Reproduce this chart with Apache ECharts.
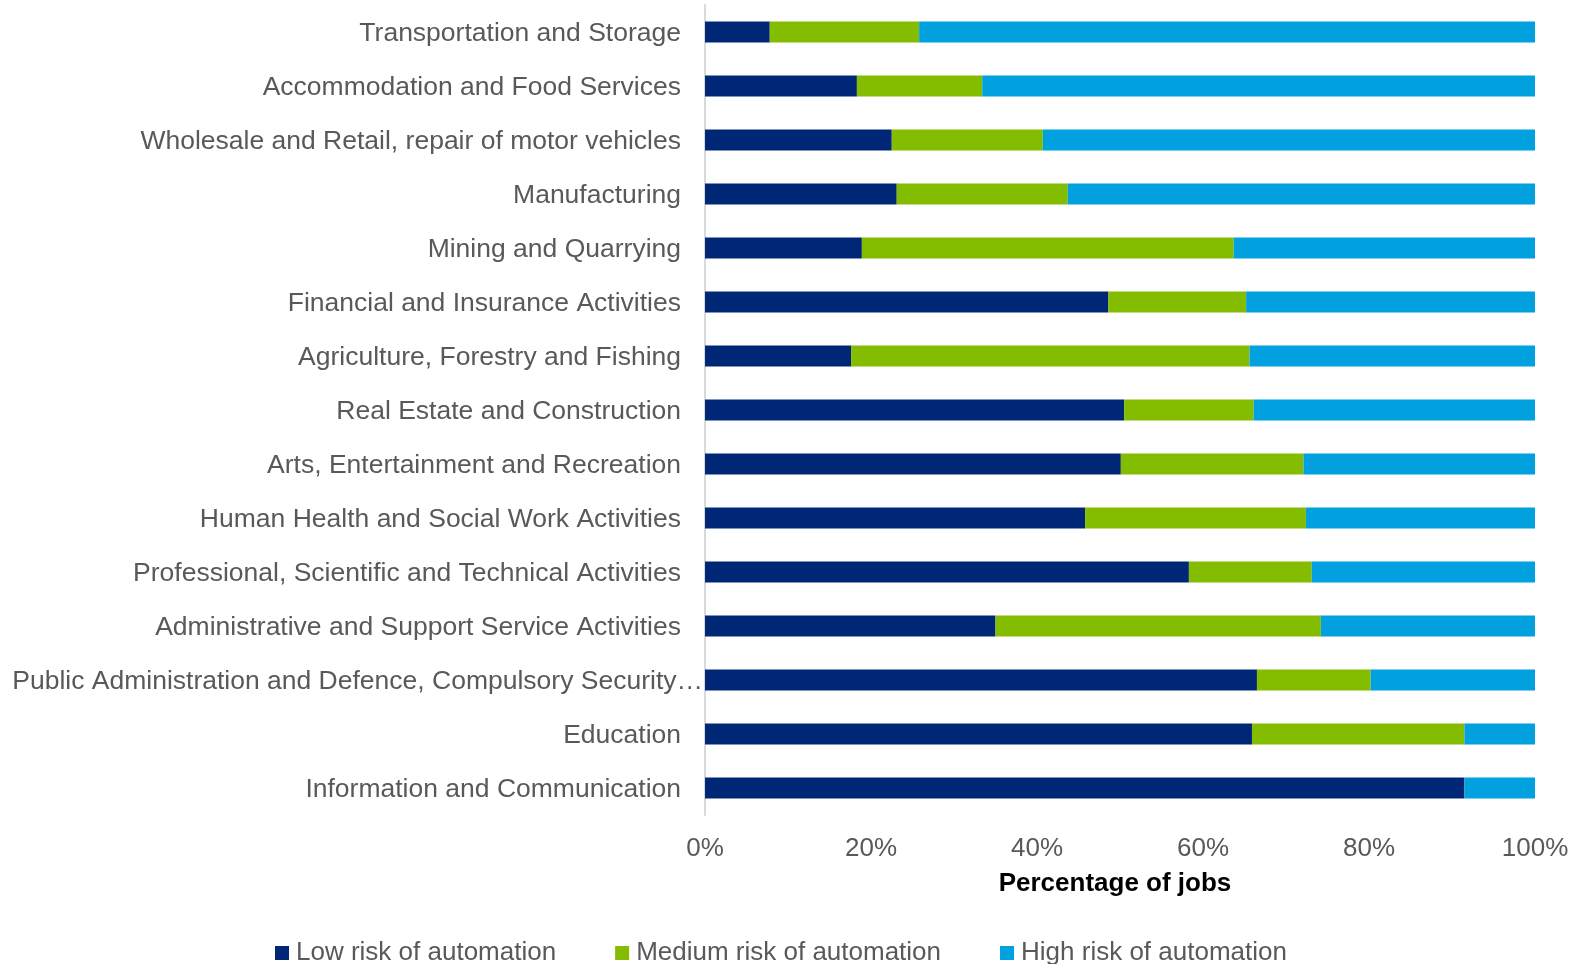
<!DOCTYPE html>
<html>
<head>
<meta charset="utf-8">
<script src="https://cdn.jsdelivr.net/npm/echarts@6/dist/echarts.min.js"></script>
<style>
  html, body { margin: 0; padding: 0; background: #ffffff; }
  #chart { width: 1579px; height: 964px; }
</style>
</head>
<body>
<div id="chart"></div>
<script>
// Categories, top to bottom
const categories = [
  "Transportation and Storage",
  "Accommodation and Food Services",
  "Wholesale and Retail, repair of motor vehicles",
  "Manufacturing",
  "Mining and Quarrying",
  "Financial and Insurance Activities",
  "Agriculture, Forestry and Fishing",
  "Real Estate and Construction",
  "Arts, Entertainment and Recreation",
  "Human Health and Social Work Activities",
  "Professional, Scientific and Technical Activities",
  "Administrative and Support Service Activities",
  "Public Administration and Defence, Compulsory Security…",
  "Education",
  "Information and Communication"
];
const seriesNames = ["Low risk of automation", "Medium risk of automation", "High risk of automation"];
const lowRisk    = [7.8, 18.3, 22.5, 23.1, 18.9, 48.6, 17.6, 50.5, 50.1, 45.8, 58.3, 35.0, 66.5, 65.9, 91.5];
const mediumRisk = [18.0, 15.1, 18.2, 20.6, 44.8, 16.6, 48.0, 15.6, 22.0, 26.6, 14.8, 39.2, 13.7, 25.6, 0];
const highRisk   = [74.2, 66.6, 59.3, 56.3, 36.3, 34.8, 34.4, 33.9, 27.9, 27.6, 26.9, 25.8, 19.8, 8.5, 8.5];
const xTicks = [0, 20, 40, 60, 80, 100];
const xAxisTitle = "Percentage of jobs";

const colors = ["#002776", "#84BC00", "#00A1DE"];
const FONT = "'Liberation Sans', Arial, sans-serif";

const chart = echarts.init(document.getElementById('chart'));
const longLabel = categories[12];

function mkSeries(name, data, color) {
  return {
    name: name,
    type: 'bar',
    stack: 'total',
    data: data,
    barWidth: 21,
    itemStyle: { color: color },
    emphasis: { disabled: true }
  };
}

chart.setOption({
  animation: false,
  backgroundColor: '#ffffff',
  textStyle: { fontFamily: FONT },
  grid: { left: 705, right: 44, top: 5, bottom: 149 },
  legend: {
    left: 270,
    top: 935,
    itemWidth: 14,
    itemHeight: 14,
    itemGap: 59,
    icon: 'rect',
    textStyle: { fontFamily: FONT, fontSize: 26, color: '#595959', padding: [0, 0, 0, 2] },
    data: seriesNames
  },
  xAxis: {
    type: 'value',
    min: xTicks[0],
    max: xTicks[xTicks.length - 1],
    interval: xTicks[1] - xTicks[0],
    axisLine: { show: false },
    axisTick: { show: false },
    splitLine: { show: false },
    axisLabel: {
      formatter: '{value}%',
      fontFamily: FONT,
      fontSize: 26,
      color: '#595959',
      margin: 21
    },
    name: xAxisTitle,
    nameLocation: 'middle',
    nameGap: 56,
    nameTextStyle: { fontFamily: FONT, fontSize: 26, fontWeight: 'bold', color: '#000000', padding: [0, 10, 0, 0] }
  },
  yAxis: {
    type: 'category',
    data: categories,
    inverse: true,
    axisLine: { show: true, lineStyle: { color: '#D9D9D9', width: 2 } },
    axisTick: { show: false },
    splitLine: { show: false },
    axisLabel: {
      margin: 0,
      interval: 0,
      fontFamily: FONT,
      fontSize: 26.5,
      color: '#595959',
      formatter: function (v) {
        return v === longLabel ? '{b|' + v + '}' : '{a|' + v + '}';
      },
      rich: {
        a: { fontFamily: FONT, fontSize: 26.5, color: '#595959', padding: [4, 24, 0, 0] },
        b: { fontFamily: FONT, fontSize: 26.5, color: '#595959', padding: [4, 2, 0, 0] }
      }
    }
  },
  series: [
    mkSeries(seriesNames[0], lowRisk, colors[0]),
    mkSeries(seriesNames[1], mediumRisk, colors[1]),
    mkSeries(seriesNames[2], highRisk, colors[2])
  ]
});
</script>
</body>
</html>
